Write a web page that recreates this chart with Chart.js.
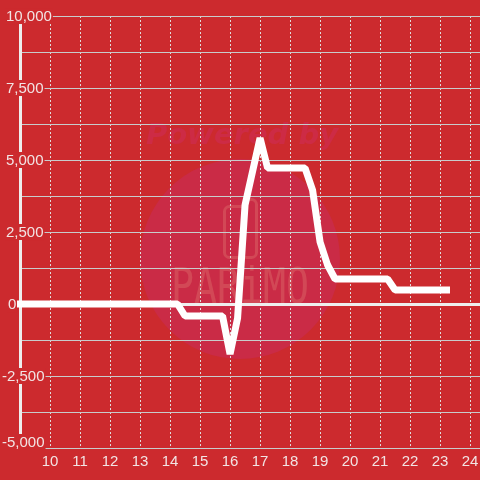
<!DOCTYPE html>
<html>
<head>
<meta charset="utf-8">
<script src="https://cdn.jsdelivr.net/npm/chart.js@4/dist/chart.umd.js"></script>
<style>
    html, body { margin: 0; padding: 0; background: #cc2a2e; }
    canvas { display: block; }
</style>
</head>
<body>
<canvas id="chart" width="480" height="480"></canvas>
<script>
const hours = [8.9, 14.25, 14.5, 15.75, 16, 16.25, 16.5, 16.75, 17, 17.25, 18.5, 18.75, 19, 19.25, 19.5, 21.25, 21.5, 23.33];
const values = [0, 0, -417, -417, -1736, -500, 3437, 4600, 5764, 4722, 4722, 3958, 2153, 1354, 868, 868, 486, 486];
const yLabels = ['10,000', '7,500', '5,000', '2,500', '0', '-2,500', '-5,000'];
const yLabelValues = [10000, 7500, 5000, 2500, 0, -2500, -5000];
const yLabelLeft = [6, 6, 6, 6, 8, 2, 2];
const yLabelShift = [0, 0, 0, 0, 0, 0, -6];

const bg = '#cc2a2e';
const labelColor = '#f2e4e4';

// watermark sits under the grid
const watermark = {
    id: 'watermark',
    beforeDraw(chart) {
        const ctx = chart.ctx;
        ctx.save();
        ctx.fillStyle = bg;
        ctx.fillRect(0, 0, 480, 480);

        ctx.fillStyle = '#ca2b46';
        ctx.beginPath();
        ctx.arc(240, 259, 100, 0, Math.PI * 2);
        ctx.fill();

        ctx.fillStyle = '#cd2b45';
        ctx.font = 'italic bold 29px "DejaVu Sans"';
        ctx.textAlign = 'center';
        ctx.textBaseline = 'middle';
        ctx.fillText('Powered by', 242, 136);

        // logo outline, the right part of the top edge is a step higher
        ctx.strokeStyle = '#d24856';
        ctx.lineWidth = 3;
        ctx.lineJoin = 'round';
        ctx.beginPath();
        ctx.moveTo(247, 206.5);
        ctx.lineTo(229.5, 206.5);
        ctx.arcTo(224.5, 206.5, 224.5, 211.5, 5);
        ctx.lineTo(224.5, 252.5);
        ctx.arcTo(224.5, 257.5, 229.5, 257.5, 5);
        ctx.lineTo(251.5, 257.5);
        ctx.arcTo(256.5, 257.5, 256.5, 252.5, 5);
        ctx.lineTo(256.5, 204.5);
        ctx.arcTo(256.5, 199.5, 251.5, 199.5, 5);
        ctx.lineTo(247, 199.5);
        ctx.stroke();

        ctx.translate(240, 290);
        ctx.scale(0.78, 1);
        ctx.fillStyle = '#d24856';
        ctx.font = '49px "DejaVu Sans Mono"';
        ctx.fillText('PARiMO', 0, 0);
        ctx.restore();
    }
};

// y labels have a red box behind them that hides the grid and the axis line
const yAxisLabels = {
    id: 'yAxisLabels',
    beforeDatasetsDraw(chart) {
        const ctx = chart.ctx;
        const y = chart.scales.y;
        ctx.save();
        ctx.font = '15px "Liberation Sans"';
        ctx.textBaseline = 'middle';
        yLabels.forEach((text, i) => {
            const py = y.getPixelForValue(yLabelValues[i]) + yLabelShift[i];
            const w = ctx.measureText(text).width;
            ctx.fillStyle = bg;
            ctx.fillRect(yLabelLeft[i] - 1, py - 8, w + 2, 16);
            ctx.fillStyle = labelColor;
            ctx.fillText(text, yLabelLeft[i], py + 1);
        });
        ctx.restore();
    }
};

new Chart(document.getElementById('chart'), {
    type: 'line',
    data: {
        datasets: [{
            data: hours.map((h, i) => ({ x: h, y: values[i] })),
            borderColor: '#ffffff',
            borderWidth: 7,
            borderJoinStyle: 'bevel',
            pointRadius: 0,
            tension: 0,
            clip: false
        }]
    },
    options: {
        responsive: false,
        animation: false,
        layout: { padding: { left: 20, top: 16.01, right: 0, bottom: 0 } },
        plugins: { legend: { display: false }, tooltip: { enabled: false } },
        scales: {
            x: {
                type: 'linear',
                min: 9,
                max: 24.33,
                afterFit: s => { s.height = 32; s.paddingLeft = 0; s.paddingRight = 0; },
                border: { display: false, dash: [2, 2] },
                grid: { color: '#e0dcdc', lineWidth: 1, drawTicks: false },
                ticks: {
                    stepSize: 1,
                    includeBounds: false,
                    autoSkip: false,
                    maxRotation: 0,
                    padding: 5,
                    color: labelColor,
                    font: { family: '"Liberation Sans"', size: 15 },
                    callback: v => (v >= 10 ? String(v) : '')
                }
            },
            y: {
                min: -5000,
                max: 10000,
                afterFit: s => { s.width = 0; s.paddingTop = 0; s.paddingBottom = 0; },
                border: { color: '#eeeeee', width: 3 },
                grid: {
                    color: c => (c.tick.value === 0 ? '#eeeeee' : '#c8cccc'),
                    lineWidth: c => (c.tick.value === 0 ? 3 : 1),
                    drawTicks: false
                },
                ticks: { stepSize: 1250, display: false }
            }
        }
    },
    plugins: [watermark, yAxisLabels]
});
</script>
</body>
</html>
